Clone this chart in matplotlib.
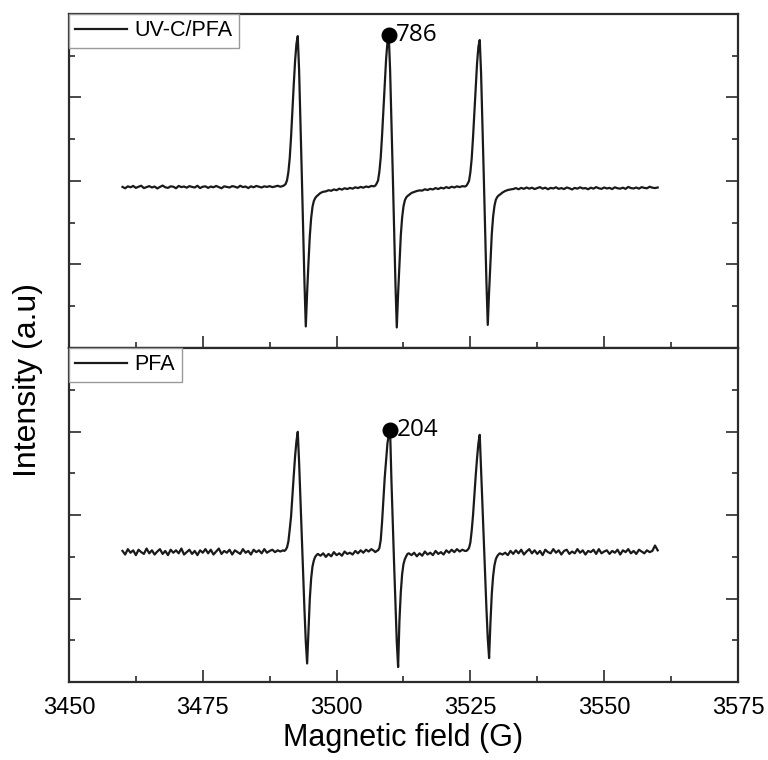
import matplotlib
matplotlib.use("Agg")
from matplotlib import pyplot as plt
from matplotlib.ticker import MultipleLocator
import numpy as np

plt.rcParams['font.family'] = ['Liberation Sans', 'DejaVu Sans']

# magnetic field (G)
field = [
    3460.0, 3460.5, 3461.0, 3461.5, 3462.0, 3462.5, 3463.0, 3463.5, 3464.0, 3464.5,
    3465.0, 3465.5, 3466.0, 3466.5, 3467.0, 3467.5, 3468.0, 3468.5, 3469.0, 3469.5,
    3470.0, 3470.5, 3471.0, 3471.5, 3472.0, 3472.5, 3473.0, 3473.5, 3474.0, 3474.5,
    3475.0, 3475.5, 3476.0, 3476.5, 3477.0, 3477.5, 3478.0, 3478.5, 3479.0, 3479.5,
    3480.0, 3480.5, 3481.0, 3481.5, 3482.0, 3482.5, 3483.0, 3483.5, 3484.0, 3484.5,
    3485.0, 3485.5, 3486.0, 3486.5, 3487.0, 3487.5, 3488.0, 3488.5, 3489.0, 3489.5,
    3490.0,
    3490.25, 3490.5, 3490.75, 3491.0, 3491.25, 3491.5, 3491.75, 3492.0, 3492.25, 3492.5,
    3492.75, 3493.0, 3493.25, 3493.5, 3493.75, 3494.0, 3494.25, 3494.5, 3494.75, 3495.0,
    3495.25, 3495.5, 3495.75, 3496.0, 3496.25, 3496.5,
    3497.0, 3497.5, 3498.0, 3498.5, 3499.0, 3499.5, 3500.0, 3500.5, 3501.0, 3501.5,
    3502.0, 3502.5, 3503.0, 3503.5, 3504.0, 3504.5, 3505.0, 3505.5, 3506.0, 3506.5,
    3507.0,
    3507.25, 3507.5, 3507.75, 3508.0, 3508.25, 3508.5, 3508.75, 3509.0, 3509.25, 3509.5,
    3509.75, 3510.0, 3510.25, 3510.5, 3510.75, 3511.0, 3511.25, 3511.5, 3511.75, 3512.0,
    3512.25, 3512.5, 3512.75, 3513.0, 3513.25, 3513.5,
    3514.0, 3514.5, 3515.0, 3515.5, 3516.0, 3516.5, 3517.0, 3517.5, 3518.0, 3518.5,
    3519.0, 3519.5, 3520.0, 3520.5, 3521.0, 3521.5, 3522.0, 3522.5, 3523.0, 3523.5,
    3524.0,
    3524.25, 3524.5, 3524.75, 3525.0, 3525.25, 3525.5, 3525.75, 3526.0, 3526.25, 3526.5,
    3526.75, 3527.0, 3527.25, 3527.5, 3527.75, 3528.0, 3528.25, 3528.5, 3528.75, 3529.0,
    3529.25, 3529.5, 3529.75, 3530.0, 3530.25, 3530.5,
    3531.0, 3531.5, 3532.0, 3532.5, 3533.0, 3533.5, 3534.0, 3534.5, 3535.0, 3535.5,
    3536.0, 3536.5, 3537.0, 3537.5, 3538.0, 3538.5, 3539.0, 3539.5, 3540.0, 3540.5,
    3541.0, 3541.5, 3542.0, 3542.5, 3543.0, 3543.5, 3544.0, 3544.5, 3545.0, 3545.5,
    3546.0, 3546.5, 3547.0, 3547.5, 3548.0, 3548.5, 3549.0, 3549.5, 3550.0, 3550.5,
    3551.0, 3551.5, 3552.0, 3552.5, 3553.0, 3553.5, 3554.0, 3554.5, 3555.0, 3555.5,
    3556.0, 3556.5, 3557.0, 3557.5, 3558.0, 3558.5, 3559.0, 3559.5, 3560.0,
]

# UV-C/PFA intensity (a.u)
uvc_pfa = [
    3, -4, 6, 1, 8, -2, 4, 9, -3, 2, 7, 0, 5, -5, 3, 10, 1, -2, 6, 4,
    -4, 8, 2, 5, -1, 7, 3, 0, 9, -3, 4, 6, -2, 5, 1, 8, 2, -4, 6, 3,
    0, 7, 4, -1, 9, 2, 5, -3, 6, 1, 8, 4, 0, 6, 3, 7, 2, 5, 9, 4, 8,
    12, 19, 38, 80, 152, 262, 396, 530, 652, 740, 780, 604, 346, 70, -212, -488,
    -716, -540, -388, -250, -158, -100, -70, -55, -46, -40,
    -28, -22, -20, -14, -17, -10, -14, -6, -11, -4, -8, -2, -6, 1, -3, 3, -1, 5, 2, 8, 6,
    10, 21, 36, 82, 155, 268, 402, 536, 659, 747, 786, 608, 350, 72, -216, -494,
    -721, -546, -391, -247, -155, -98, -67, -52, -44, -39,
    -28, -23, -18, -15, -16, -9, -13, -7, -10, -3, -8, -1, -5, 2, -3, 4, 0, 6, 2, 7, 5,
    9, 20, 34, 78, 150, 260, 390, 520, 640, 725, 760, 590, 338, 66, -212, -486,
    -708, -536, -382, -240, -150, -95, -64, -50, -42, -37,
    -26, -18, -13, -10, -8, -3, -9, -2, -7, 0, -6, -1, -8, -3, 2, -6, -1, -9, -2, -5,
    1, -7, -3, -8, 0, -4, -10, -2, -6, 1, -5, -3, -9, -1, -6, 2, -4, -7, 0, -5,
    -2, -8, 1, -4, -6, -1, -7, 3, -3, -5, 0, -6, 2, -2, -4, 4, -1, -3, 0,
]

# PFA intensity (a.u)
pfa = [
    2, -4, 5, -1, 3, -5, 4, 0, -3, 6, -2, 3, -4, 1, 5, -3, 2, -5, 4, -1,
    3, -2, 6, -4, 0, 4, -3, 2, -5, 3, -1, 5, -2, 4, -4, 1, 6, -3, 2, -1,
    4, -4, 3, 0, -3, 5, -1, 2, -4, 4, 0, 3, -2, 5, -1, 2, 4, 0, 3, 1, 3,
    2, 4, 8, 18, 38, 60, 95, 128, 160, 185, 201, 150, 88, 28, -34, -96,
    -150, -186, -130, -78, -44, -24, -14, -8, -5, -3,
    -6, -2, -8, -3, -7, 0, -5, -2, -6, 1, -3, -1, -4, 2, -2, 3, -1, 4, 1, 5, 2,
    0, 2, 3, 7, 20, 50, 87, 125, 154, 181, 197, 204, 120, 47, -20, -87,
    -150, -192, -114, -67, -37, -20, -12, -7, -3, -2,
    -5, -1, -7, -2, -6, 1, -4, -1, -5, 2, -3, 0, -4, 3, -1, 4, 0, 5, 1, 4, 2,
    2, 4, 7, 16, 36, 62, 96, 128, 157, 182, 196, 140, 80, 22, -36, -94,
    -144, -177, -118, -70, -40, -22, -12, -7, -4, -2,
    -4, -1, -5, 2, -3, 3, -2, 4, -4, 1, 5, -2, 3, -3, 2, -5, 4, 0, -2, 5,
    -1, 3, -4, 2, 4, -3, 1, -2, 5, -1, 3, -4, 2, 0, 4, -3, 5, -2, 1, 3,
    -3, 2, -1, 4, -4, 3, 0, 5, -2, 2, -3, 4, 1, -2, 3, 0, 2, 11, 3,
]

labels = ["UV-C/PFA", "PFA"]
y_limits = [(-827, 894), (-217, 341)]

assert len(field) == len(uvc_pfa) == len(pfa), (len(field), len(uvc_pfa), len(pfa))

fig = plt.figure(figsize=(7.68, 7.60), dpi=100)
ax_top = fig.add_axes([0.0898, 0.5421, 0.8711, 0.4395])
ax_bot = fig.add_axes([0.0898, 0.1026, 0.8711, 0.4395], sharex=ax_top)

spine_col = '#2b2b2b'
for ax, y, lab, lim in zip([ax_top, ax_bot], [uvc_pfa, pfa], labels, y_limits):
    ax.plot(field, y, color='#1a1a1a', lw=1.6, label=lab)
    i = int(np.argmax(y))
    ax.plot(field[i], y[i], 'o', color='black', ms=10.5)
    ax.annotate(str(y[i]), (field[i], y[i]), xytext=(5, 0), textcoords='offset points',
                va='center', ha='left', fontsize=17.5, family=['Open Sans', 'DejaVu Sans'])
    ax.set_ylim(lim)
    ax.set_yticks(np.linspace(lim[0], lim[1], 5))
    ax.set_yticks(np.linspace(lim[0], lim[1], 9), minor=True)
    ax.set_yticklabels([])
    ax.tick_params(which='both', direction='in', left=True, right=True, top=False,
                   width=1.2, color=spine_col, labelsize=17, pad=11)
    ax.tick_params(which='major', length=8.5)
    ax.tick_params(which='minor', length=4.3)
    for s in ax.spines.values():
        s.set_linewidth(1.6)
        s.set_color(spine_col)
    leg = ax.legend(loc='upper left', borderaxespad=0, fancybox=False, fontsize=15.5,
                    handlelength=2.4, handletextpad=0.35, borderpad=0.3, framealpha=1)
    leg.get_frame().set_edgecolor('#9a9a9a')
    leg.get_frame().set_linewidth(1.0)

ax_top.set_xlim(3450, 3575)
ax_top.xaxis.set_major_locator(MultipleLocator(25))
ax_top.xaxis.set_minor_locator(MultipleLocator(12.5))
ax_top.tick_params(labelbottom=False)

ax_bot.set_xlabel("Magnetic field (G)", fontsize=22, labelpad=3)
fig.text(0.037, 0.5, "Intensity (a.u)", rotation=90, va='center', ha='center', fontsize=23)

plt.savefig("out.png", dpi=100)
